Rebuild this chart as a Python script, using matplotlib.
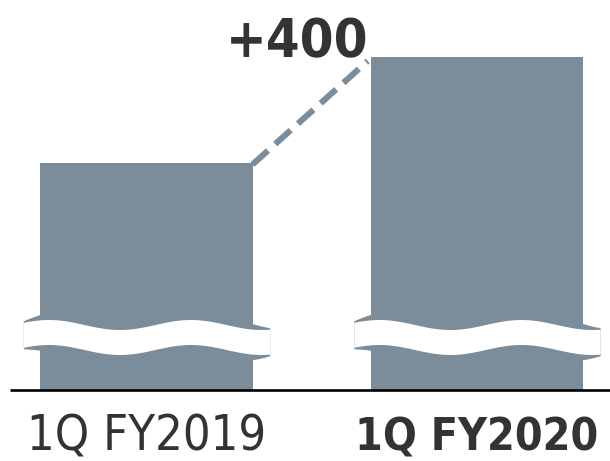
import matplotlib
matplotlib.use("Agg")
import matplotlib.pyplot as plt
import numpy as np

# quarterly totals, second quarter is the prior one plus the increase
periods = ["1Q FY2019", "1Q FY2020"]
totals = [3200, 3600]

BAR = "#7b8c9a"
INK = "#333333"
FONTS = ["Liberation Sans Narrow", "DejaVu Sans Condensed", "DejaVu Sans"]

plt.rcParams["font.family"] = FONTS

# value scale: 106 px per 400 units, axis floor cut by the wave break
unit = 400 / 106.0
floor = totals[0] - 227 * unit
top = floor + 390 * unit

fig = plt.figure(figsize=(6.10, 4.61), dpi=100)
ax = fig.add_axes([0, 71 / 461, 1, 390 / 461])
ax.set_xlim(-146.5 / 330.5, 1 + 133 / 330.5)
ax.set_ylim(floor, top)
ax.axis("off")

x = np.arange(len(totals))
width = 212 / 330.5
ax.bar(x, [t - floor for t in totals], width=width, bottom=floor, color=BAR, zorder=2)

# wavy break across each bar
wave_mid = floor + 53 * unit
for i in x:
    left = i - width / 2
    xs = np.linspace(left - 0.052, i + width / 2 + 0.052, 300)
    rel = (xs - left) * 330.5
    y = wave_mid + 5 * unit * np.cos(2 * np.pi * (rel - 8) / 142)
    d = np.minimum(xs - xs[0], xs[-1] - xs) * 330.5
    extra = (1.5 + 4 * np.clip(d / 17, 0, 1)) * unit
    ax.fill_between(xs, y - 12.5 * unit - extra, y + 12.5 * unit + extra,
                    color=BAR, lw=0, zorder=3)
    ax.fill_between(xs, y - 12.5 * unit, y + 12.5 * unit, color="white", lw=0, zorder=4)

# baseline
ax.plot([-136.5 / 330.5, 1 + 133 / 330.5], [floor, floor], color="black",
        lw=1.9, clip_on=False, zorder=5, solid_capstyle="butt")

# dashed connector between bar tops
ax.plot([x[0] + width / 2, x[1] - width / 2 - 0.01], [totals[0] - 1.5 * unit, totals[1] - 4 * unit],
        color=BAR, lw=4.4, dashes=(3.4, 1.6), dash_capstyle="butt", zorder=2)

diff = totals[1] - totals[0]
ax.text(0.455, totals[1], f"+{diff}", ha="center", va="baseline",
        fontsize=39, fontweight="bold", color=INK, fontstretch="condensed")

sizes = [35, 32]
for i, label in enumerate(periods):
    ax.annotate(label, xy=(x[i], 0), xycoords=("data", "axes fraction"),
                xytext=(0, -43.5), textcoords="offset points",
                ha="center", va="baseline", fontsize=sizes[i], color=INK,
                fontweight="bold" if i == 1 else "normal", fontstretch="condensed")

fig.savefig("out.png", dpi=100)
